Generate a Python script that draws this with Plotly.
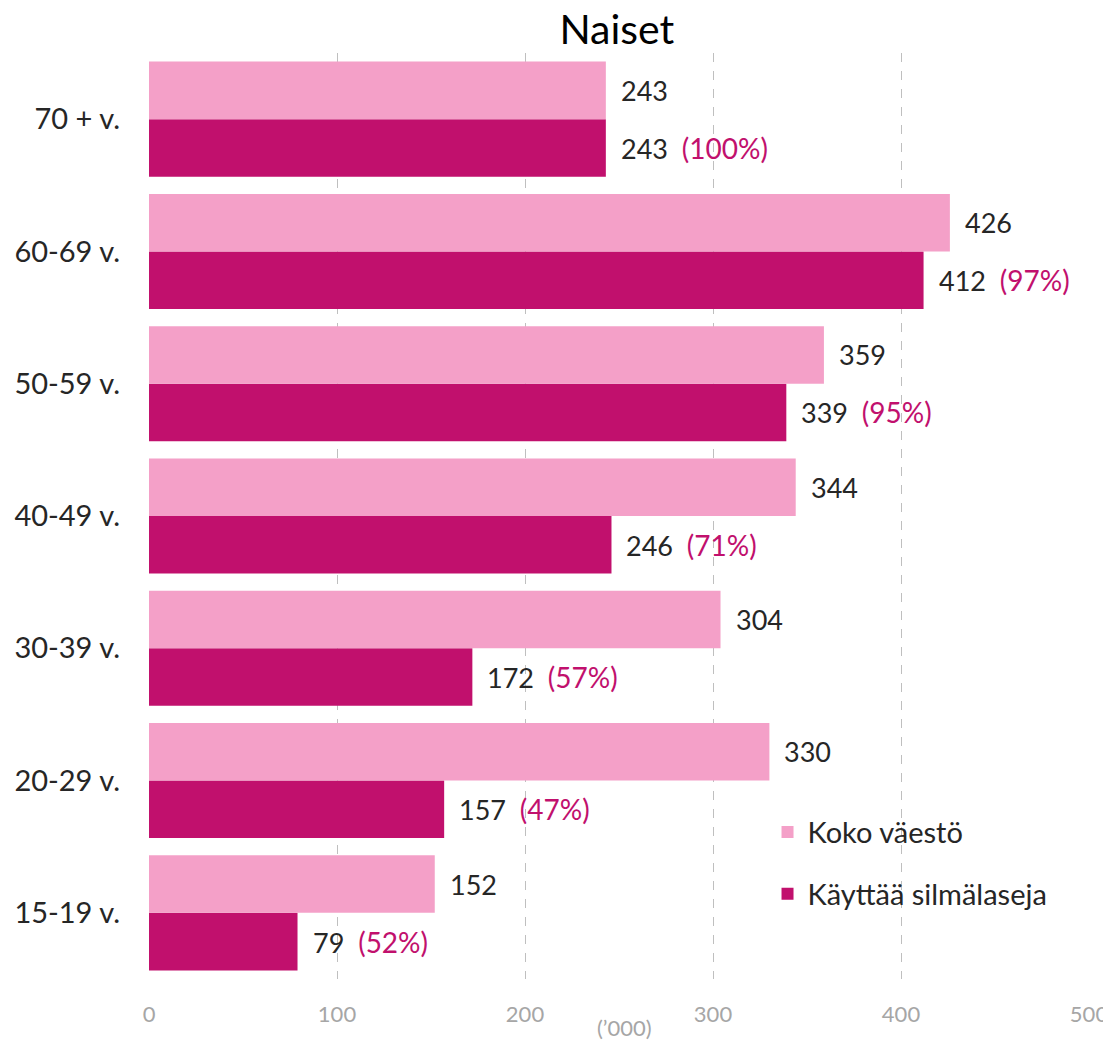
import plotly.graph_objects as go

categories = ["15-19 v.", "20-29 v.", "30-39 v.", "40-49 v.", "50-59 v.", "60-69 v.", "70 + v."]
koko_vaesto = [152, 330, 304, 344, 359, 426, 243]
kayttaa_silmalaseja = [79, 157, 172, 246, 339, 412, 243]
osuus = ["52%", "47%", "57%", "71%", "95%", "97%", "100%"]
x_ticks = [0, 100, 200, 300, 400, 500]

LIGHT = "#F4A0C8"
DARK = "#C1106D"
FONT = "Lato"

fig = go.Figure()
fig.add_trace(go.Bar(
    y=categories, x=kayttaa_silmalaseja, orientation="h", name="Käyttää silmälaseja",
    marker=dict(color=DARK, line=dict(width=0)), legendrank=2, legendgroup="b",
    hoverinfo="skip",
))
fig.add_trace(go.Bar(
    y=categories, x=koko_vaesto, orientation="h", name="Koko väestö",
    marker=dict(color=LIGHT, line=dict(width=0)), legendrank=1, legendgroup="a",
    hoverinfo="skip",
))

annotations = []
off = 0.2175
for i, cat in enumerate(categories):
    annotations.append(dict(
        x=koko_vaesto[i], y=i + off, xref="x", yref="y", text=str(koko_vaesto[i]),
        showarrow=False, xanchor="left", yanchor="middle", xshift=13,
        font=dict(family=FONT, size=27, color="#262626"),
    ))
    annotations.append(dict(
        x=kayttaa_silmalaseja[i], y=i - off, xref="x", yref="y",
        text=f"{kayttaa_silmalaseja[i]}  <span style='color:{DARK};font-size:28px'>({osuus[i]})</span>",
        showarrow=False, xanchor="left", yanchor="middle", xshift=13,
        font=dict(family=FONT, size=27, color="#262626"),
    ))
annotations.append(dict(
    x=0.506, y=-0.052, xref="paper", yref="paper", text="(’000)", showarrow=False,
    xanchor="center", yanchor="middle", font=dict(family=FONT, size=22, color="#A6A6A6"),
))

fig.update_layout(
    width=1103, height=1033,
    margin=dict(l=141, r=22, t=45, b=62, autoexpand=False),
    paper_bgcolor="white", plot_bgcolor="white",
    barmode="group", bargap=0.13, bargroupgap=0,
    title=dict(text="Naiset", x=0.552, xanchor="center", y=0.979, yanchor="middle",
               font=dict(family=FONT, size=41, color="black")),
    showlegend=True,
    legend=dict(x=0.658, y=0.186, xanchor="left", yanchor="top",
                font=dict(family=FONT, size=29, color="#262626"),
                traceorder="grouped", tracegroupgap=21, bgcolor="rgba(0,0,0,0)"),
    annotations=annotations,
    xaxis=dict(range=[0, 500], tickvals=x_ticks, showgrid=True, gridcolor="#BFBFBF",
               griddash="dash", gridwidth=1, zeroline=False, showline=False,
               ticks="", tickfont=dict(family=FONT, size=22, color="#A6A6A6"),
               ticklabelstandoff=20, automargin=False),
    yaxis=dict(categoryorder="array", categoryarray=categories, showgrid=False,
               zeroline=False, showline=False, ticks="",
               tickfont=dict(family=FONT, size=29, color="#262626"),
               ticklabelstandoff=28, automargin=False),
)

fig.write_html("out.html")
